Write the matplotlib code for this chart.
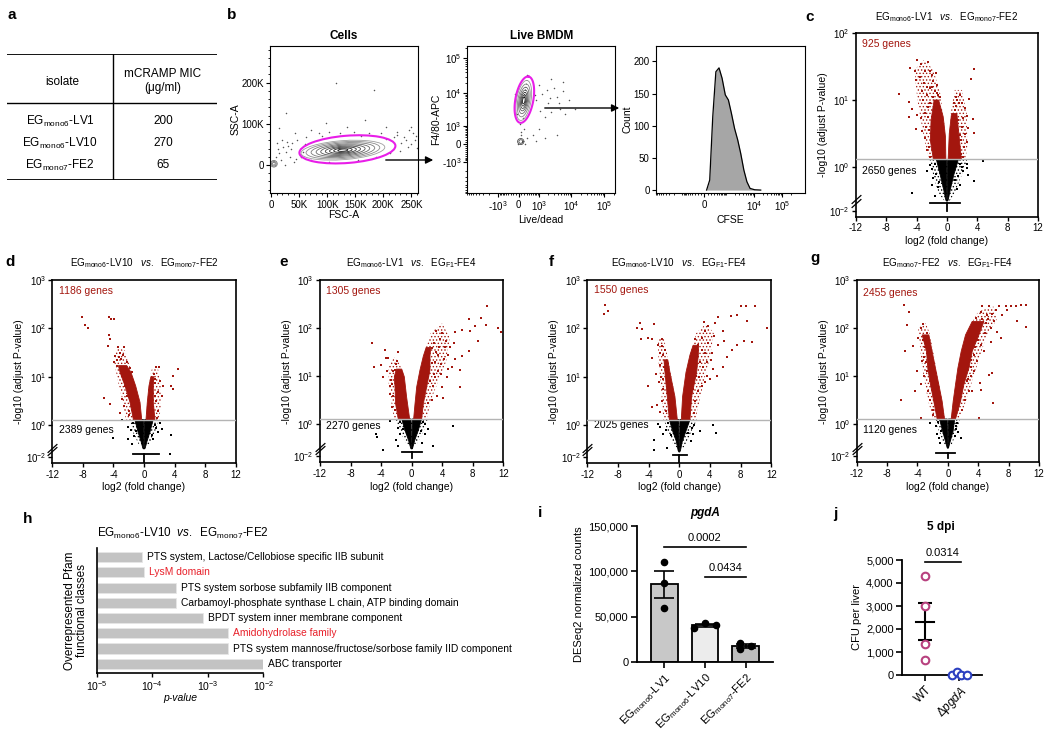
import numpy as np
import matplotlib
matplotlib.use("Agg")
import matplotlib.pyplot as plt
from matplotlib.patches import Ellipse, FancyArrowPatch
from matplotlib.transforms import blended_transform_factory

plt.rcParams['font.family'] = ['Liberation Sans', 'DejaVu Sans']
plt.rcParams['mathtext.fontset'] = 'custom'
plt.rcParams['mathtext.rm'] = 'Liberation Sans'
plt.rcParams['mathtext.it'] = 'Liberation Sans:italic'
plt.rcParams['mathtext.bf'] = 'Liberation Sans:bold'
plt.rcParams['mathtext.default'] = 'regular'
plt.rcParams['axes.unicode_minus'] = False
plt.rcParams['hatch.linewidth'] = 0.6

# ---------------- data ----------------
# a: MIC table
isolates = ["EG$_{mono6}$-LV1", "EG$_{mono6}$-LV10", "EG$_{mono7}$-FE2"]
mic_values = [200, 270, 65]

# b: flow gating (Cells: FSC-A / SSC-A in K units)
cells_dots = [(14.6, 89.1), (27.3, 125.4), (43.3, 76.9), (71.8, 84.9), (97.3, 101), (116.4, 198),
              (183.2, 182), (135.4, 93), (167.3, 109), (205.5, 93), (224.5, 81), (237.4, 68.7),
              (250, 93), (256.3, 60.7), (243.8, 44.4), (211.9, 28.3), (186.6, 20.2), (154.7, 12.1),
              (103.7, 8.1), (71.8, 12.1), (33.7, 20.2), (21, 44.4), (11.4, 52.6), (46.3, 60.7),
              (62.4, 68.7), (84.6, 76.9), (103.7, 81), (122.8, 76.9), (148.2, 81), (173.7, 76.9),
              (196, 76.9), (218.3, 68.7), (231, 52.6), (253.2, 76.9), (259.6, 40.5), (240.7, 60.7),
              (27.3, 32.3), (40.1, 8.1), (14.6, 28.3), (52.7, 20.2), (8.2, 20.2), (24.1, 0),
              (36.9, 52.6), (56, 32.3), (18, 12), (30, 45), (230, 35), (250, 50), (20, 60), (35, 38),
              (45, 15), (60, 50), (90, 70), (160, 70), (205, 62), (225, 72), (245, 85), (258, 70),
              (12, 40), (28, 55)]
cells_core = (128e3, 36e3)
cells_core_size = (150e3, 46e3)
cells_levels = [1.0, 0.88, 0.76, 0.64, 0.53, 0.42, 0.32, 0.22, 0.12]
cells_gate = (136e3, 38e3, 172e3, 66e3, 6.5)

# Live BMDM: Live/dead vs F4/80-APC
live_dots = [(785, 6385), (1264, 9440), (1976, 5226), (3052, 14070), (3775, 7800), (5770, 11520),
             (8790, 6385), (4665, 3520), (2465, 2870), (1596, 1910), (998, 774), (603, 419),
             (313, 272), (78, 586), (785, 135), (1596, 272), (3775, 419), (13470, 3520),
             (5770, 20840), (2465, 25460), (998, 17080), (313, 33970), (191, 774), (-34, 0),
             (131, 67), (247, 0), (-146, 9440), (-60, 2500), (60, 1200), (150, 1800), (90, 420),
             (1100, 3000), (1800, 12000), (2200, 7000), (700, 9000), (4200, 5200), (6500, 2500)]
live_core_u = (0.36, 2.9)
live_levels = [1.0, 0.82, 0.66, 0.52, 0.4, 0.28, 0.17]
live_gate_u = (0.40, 2.95, 1.57, 0.62, 79)

# CFSE histogram
cfse_values = [61, 152, 250, 367, 510, 680, 908, 1190, 1540, 1990, 2590, 3320, 4310, 5530, 7180, 10500, 17200]
cfse_counts = [0, 15.6, 114, 184, 190, 174, 148, 140, 119, 96, 78, 57, 31, 13, 2.6, 0.5, 0]

# c-g: volcano plots, vertices/points as (log2 FC, log10 of -log10 adj P)
c_halo_red = [[(-0.2, 0.114), (-0.3, 0.6), (-0.9, 1.1), (-1.8, 1.45), (-3.0, 1.6), (-4.3, 1.45), (-3.9, 1.0),
               (-3.3, 0.6), (-2.8, 0.3), (-2.3, 0.114)],
              [(0.2, 0.114), (0.5, 0.8), (1.0, 1.15), (2.0, 1.15), (2.6, 0.8), (2.7, 0.3), (2.4, 0.114)]]
c_halo_black = [[(-2.3, 0.114), (2.7, 0.114), (1.9, -0.4), (1.0, -1.2), (0.3, -1.55), (-0.3, -1.55), (-1.1, -1.2),
                 (-1.8, -0.4)]]
c_red_polys = [[(-0.15, 0.114), (-0.2, 0.45), (-0.5, 0.75), (-1.1, 1.0), (-1.7, 1.0), (-2.1, 0.7), (-2.2, 0.4), (-1.8, 0.114)],
               [(0.15, 0.114), (0.3, 0.5), (0.6, 0.8), (1.3, 0.8), (1.6, 0.45), (1.9, 0.114)]]
c_black_polys = [[(-0.08, 0.114), (-1.4, 0.114), (-0.9, -0.35), (-0.45, -1.0), (-0.15, -1.5), (-0.03, -1.55)],
                 [(0.08, 0.114), (1.5, 0.114), (0.9, -0.35), (0.45, -1.0), (0.15, -1.5), (0.03, -1.55)]]
c_red = [(-3.97, 1.59), (-4.93, 1.48), (-2.49, 1.56), (-3.45, 1.54), (-4.28, 1.43), (-2.88, 1.43), (-2.23, 1.44),
         (-3.62, 1.35), (-4.15, 1.30), (-6.33, 1.09), (-5.02, 0.97), (-4.59, 0.87), (-5.02, 0.74), (-3.36, 1.13),
         (-2.66, 1.08), (-3.97, 0.78), (-3.45, 0.73), (-2.23, 1.18), (-1.57, 1.13), (-1.79, 1.28), (-2.01, 1.38),
         (3.58, 1.47), (3.23, 1.31), (2.84, 1.02), (1.70, 1.08), (1.35, 1.00), (2.40, 0.88), (3.45, 0.71),
         (2.66, 0.76), (2.14, 0.73), (1.18, 0.91), (0.83, 0.63), (2.79, 0.58), (3.54, 0.51), (-4.06, 0.56),
         (-3.32, 0.53), (-2.88, 0.43), (2.58, 0.38), (1.70, 0.48), (-1.35, 1.23), (-1.14, 1.08),
         (-2.5, 0.9), (-2.9, 0.8), (-2.4, 0.3), (-2.7, 0.25), (-1.9, 1.05), (-3.1, 1.0), (-2.2, 0.95),
         (-2.6, 1.2), (-3.0, 1.25), (-1.5, 1.4), (-2.8, 0.6), (1.6, 0.95), (2.0, 0.6), (2.2, 0.3),
         (1.9, 0.2), (1.2, 1.05), (1.0, 0.85), (1.5, 0.7), (2.4, 0.5), (-2.35, 0.55), (-2.45, 0.75),
         (-2.3, 0.15), (-1.3, 1.1), (-0.9, 1.05), (-1.95, 1.2), (2.1, 0.15), (1.8, 0.4), (2.0, 0.95), (0.9, 0.95)]
c_black = [(4.76, 0.085), (3.54, -0.62), (-4.63, -1.18), (2.79, -0.35), (-2.66, -0.20), (-2.23, 0.035),
           (2.58, -0.045), (-2.01, -0.80), (1.70, -0.80), (-1.53, -1.33), (-2.0, -0.1), (-1.8, -0.5),
           (2.1, -0.2), (2.0, 0.0), (-1.2, -0.9), (1.3, -1.0), (2.7, 0.05), (-1.6, 0.05), (1.7, 0.05),
           (-1.4, -0.3), (1.4, -0.4), (-1.0, -0.7), (1.1, -0.6)]
c_band = (-2.2, 1.7, -1.63, -1.97)

d_halo_red = [[(-0.3, 0.114), (-0.8, 0.6), (-1.8, 1.2), (-2.5, 1.55), (-3.6, 1.6), (-3.9, 1.3), (-3.4, 0.9),
               (-2.8, 0.5), (-2.4, 0.114)],
              [(0.25, 0.114), (0.6, 0.8), (1.0, 1.15), (1.8, 1.2), (2.2, 0.8), (2.2, 0.4), (2.0, 0.114)]]
d_halo_black = [[(-2.0, 0.114), (2.0, 0.114), (1.4, -0.5), (0.6, -1.3), (-0.6, -1.3), (-1.4, -0.5)]]
d_red_polys = [[(-0.3, 0.114), (-0.52, 0.47), (-1.09, 0.81), (-1.7, 1.09), (-2.26, 1.23), (-3.35, 1.23), (-3.13, 1.09),
                (-2.48, 0.81), (-1.83, 0.47), (-1.39, 0.114)],
               [(0.26, 0.114), (0.43, 0.47), (0.65, 0.81), (0.9, 1.0), (1.3, 1.0), (1.22, 0.81), (1.22, 0.47), (1.43, 0.114)]]
d_black_polys = [[(-0.08, 0.114), (-1.2, 0.114), (-0.8, -0.4), (-0.4, -1.0), (-0.15, -1.45), (-0.03, -1.5)],
                 [(0.08, 0.114), (1.2, 0.114), (0.8, -0.4), (0.4, -1.0), (0.15, -1.45), (0.03, -1.5)]]
d_red = [(-8.13, 2.23), (-7.78, 2.06), (-7.35, 2.0), (-4.52, 2.23), (-4.35, 2.19), (-3.87, 2.19), (-4.52, 1.86),
         (-4.43, 1.78), (-4.65, 1.63), (-3.35, 1.61), (-2.57, 1.61), (-3.78, 1.43), (-3.13, 1.50), (-3.57, 1.23),
         (-3.0, 1.37), (-2.26, 1.30), (-1.83, 1.19), (-2.91, 1.02), (-2.04, 0.95), (-5.17, 0.55), (-4.43, 0.43),
         (-2.91, 0.54), (-3.13, 0.26), (1.57, 1.21), (1.96, 1.21), (4.48, 1.17), (3.74, 1.02), (3.52, 0.81),
         (1.30, 1.06), (2.09, 0.92), (2.52, 0.81), (1.43, 0.88), (3.83, 0.74), (1.87, 0.68), (0.91, 0.74),
         (-1.61, 1.09), (-2.48, 0.81), (-1.39, 0.68), (-2.2, 0.6), (-2.6, 0.4), (-2.0, 0.3), (-3.5, 1.35),
         (-3.9, 1.3), (-2.8, 1.2), (1.6, 0.5), (1.8, 0.3), (1.5, 0.95), (2.3, 0.6), (-3.3, 1.4), (-2.7, 1.45),
         (-2.3, 1.1), (-1.9, 0.2), (1.7, 0.15), (1.4, 0.6)]
d_black = [(-2.83, 0.10), (-2.13, -0.15), (2.09, 0.041), (2.39, -0.25), (3.52, -0.63), (-4.0, -0.84),
           (-2.04, -0.88), (-1.52, -1.19), (3.39, -1.78), (1.78, -0.46), (-1.7, -0.3), (1.6, -0.2),
           (-1.3, -0.7), (1.2, -0.9), (-1.5, 0.05), (1.5, 0.0), (-1.1, -0.4), (1.0, -0.6)]
d_band = (-1.5, 1.9, -1.82, -2.3)

e_halo_red = [[(-0.3, 0.114), (-0.8, 0.7), (-1.5, 1.25), (-2.3, 1.4), (-3.0, 1.2), (-3.0, 0.8), (-2.6, 0.4),
               (-2.3, 0.114)],
              [(0.25, 0.114), (0.8, 0.8), (1.5, 1.4), (2.5, 1.9), (4.0, 2.1), (5.0, 1.8), (4.5, 1.3), (3.5, 0.9),
               (2.5, 0.5), (2.0, 0.114)]]
e_halo_black = [[(-2.2, 0.114), (2.2, 0.114), (1.5, -0.5), (0.6, -1.3), (-0.6, -1.3), (-1.5, -0.5)]]
e_red_polys = [[(-0.26, 0.114), (-0.66, 0.57), (-0.96, 0.99), (-1.3, 1.15), (-2.0, 1.15), (-2.27, 0.99), (-2.18, 0.78),
                (-2.1, 0.43), (-1.75, 0.114)],
               [(0.26, 0.114), (0.44, 0.43), (0.66, 0.78), (1.09, 1.13), (1.53, 1.42), (1.9, 1.6), (2.5, 1.6),
                (2.4, 1.42), (2.4, 1.13), (1.97, 0.78), (1.53, 0.43), (1.31, 0.114)]]
e_black_polys = [[(-0.08, 0.114), (-1.3, 0.114), (-0.85, -0.4), (-0.4, -1.0), (-0.12, -1.5), (-0.03, -1.55)],
                 [(0.08, 0.114), (1.3, 0.114), (0.85, -0.4), (0.4, -1.0), (0.12, -1.5), (0.03, -1.55)]]
e_red = [(9.83, 2.47), (7.51, 2.19), (9.04, 2.21), (11.27, 2.01), (11.7, 1.91), (9.74, 2.07), (8.3, 2.05),
         (6.55, 1.96), (5.68, 1.91), (7.64, 1.94), (8.73, 1.73), (7.51, 1.52), (6.55, 1.42), (5.68, 1.35),
         (4.5, 1.73), (3.71, 1.77), (3.14, 1.94), (2.62, 1.59), (3.49, 1.45), (4.8, 1.45), (5.24, 1.20),
         (6.33, 1.13), (4.59, 0.99), (3.93, 0.78), (6.33, 0.78), (4.15, 0.54), (3.06, 0.99), (2.62, 1.27),
         (1.75, 1.31), (2.18, 1.06), (-5.15, 1.70), (-3.49, 1.54), (-3.14, 1.39), (-3.41, 1.38), (-4.89, 1.20),
         (-4.02, 1.24), (-1.97, 1.31), (-2.18, 1.13), (-3.71, 0.99), (-2.71, 0.92), (-2.84, 0.64), (-2.53, 0.36),
         (-1.31, 1.06), (-1.53, 0.85), (3.0, 1.3), (3.4, 1.1), (2.8, 0.8), (3.6, 1.6), (4.2, 1.35), (2.9, 1.7),
         (5.0, 1.6), (4.0, 1.9), (3.3, 0.6), (2.6, 0.5), (-2.5, 1.1), (-2.9, 0.8), (-2.4, 0.6), (-3.2, 1.1),
         (-1.8, 1.5), (3.8, 1.25), (4.4, 1.6), (3.2, 1.5), (2.4, 0.9), (2.1, 0.45), (5.5, 1.7), (4.7, 1.15),
         (3.9, 1.05), (2.9, 1.05), (-2.2, 0.3), (-2.0, 1.25), (-2.6, 0.85)]
e_black = [(-4.67, -0.62), (-4.5, -0.79), (5.37, -0.085), (-3.71, -1.58), (-2.1, -1.0), (-2.84, 0.077),
           (1.75, -0.62), (2.84, -1.37), (1.40, -1.15), (-1.75, -1.37), (-1.8, -0.2), (1.8, 0.0),
           (2.1, -0.3), (-1.5, -0.6), (-1.5, 0.05), (1.5, 0.05), (1.2, -0.4), (-1.1, -0.3)]
e_band = (-1.2, 1.3, -1.73, -2.1)

f_halo_red = [[(-0.3, 0.114), (-0.8, 0.8), (-1.5, 1.4), (-2.0, 1.8), (-2.8, 1.8), (-2.7, 1.3), (-2.4, 0.8),
               (-2.1, 0.114)],
              [(0.25, 0.114), (0.7, 0.8), (1.3, 1.4), (2.2, 1.9), (3.5, 2.1), (4.5, 1.9), (4.0, 1.4), (3.2, 0.9),
               (2.5, 0.4), (2.1, 0.114)]]
f_halo_black = [[(-2.0, 0.114), (2.3, 0.114), (1.5, -0.5), (0.6, -1.4), (-0.6, -1.4), (-1.5, -0.5)]]
f_red_polys = [[(-0.26, 0.114), (-0.57, 0.59), (-1.22, 1.09), (-1.5, 1.35), (-2.0, 1.35), (-1.87, 1.09),
                (-1.57, 0.59), (-1.3, 0.114)],
               [(0.26, 0.114), (0.43, 0.59), (0.87, 1.09), (1.39, 1.45), (1.8, 1.65), (2.5, 1.65), (2.48, 1.45),
                (2.26, 1.09), (1.61, 0.59), (1.39, 0.114)]]
f_black_polys = [[(-0.08, 0.114), (-1.3, 0.114), (-0.85, -0.4), (-0.4, -1.0), (-0.15, -1.6), (-0.03, -1.7)],
                 [(0.08, 0.114), (1.4, 0.114), (0.85, -0.4), (0.4, -1.0), (0.15, -1.6), (0.03, -1.7)]]
f_red = [(-9.7, 2.49), (-9.26, 2.36), (-9.78, 2.29), (-5.13, 2.12), (-5.57, 2.01), (-4.91, 1.99), (-3.3, 2.09),
         (-4.13, 1.81), (-3.61, 1.79), (-5.0, 1.79), (-2.3, 1.79), (-2.3, 1.63), (-2.17, 1.45), (-3.61, 1.38),
         (-2.52, 1.24), (-3.04, 1.06), (-4.04, 0.81), (-3.61, 0.38), (-2.96, 0.41), (-2.52, 0.27), (-2.09, 0.74),
         (8.09, 2.46), (8.65, 2.47), (9.83, 2.47), (7.48, 2.27), (6.74, 2.26), (5.09, 2.24), (3.22, 2.14),
         (3.78, 2.04), (4.65, 2.11), (11.39, 2.01), (8.78, 2.16), (8.48, 1.74), (9.52, 1.71), (7.48, 1.66),
         (6.83, 1.56), (5.74, 1.95), (5.83, 1.74), (5.09, 1.66), (6.17, 1.41), (5.74, 1.2), (4.87, 1.02),
         (4.43, 1.16), (3.35, 1.49), (2.48, 1.66), (2.04, 1.77), (2.7, 1.31), (3.57, 1.02), (2.91, 0.81),
         (1.83, 0.74), (4.0, 0.95), (2.17, 1.02), (3.0, 1.8), (3.8, 1.7), (4.3, 1.5), (3.1, 1.2), (2.6, 1.0),
         (4.5, 1.85), (3.4, 1.95), (2.9, 1.55), (-2.0, 1.2), (-2.4, 1.0), (-1.9, 1.55), (-2.7, 0.9), (-2.2, 0.5),
         (2.3, 1.4), (2.0, 0.5), (1.9, 0.25), (3.6, 1.3), (4.1, 1.35), (3.3, 0.9), (2.5, 0.7), (-2.1, 0.95),
         (-1.8, 0.3), (-2.5, 1.5), (-2.8, 1.65)]
f_black = [(4.43, 0.007), (4.74, -0.48), (2.7, -0.37), (1.83, -0.58), (-3.26, -0.91), (-3.26, -1.56),
           (-2.52, -0.15), (-2.09, -0.58), (-2.74, 0.02), (-1.57, -1.45), (1.9, 0.0), (-1.8, -0.3), (1.5, -1.0),
           (-1.5, 0.05), (1.6, -0.2), (-1.1, -0.6), (1.1, -0.5)]
f_band = (-0.8, 1.0, -1.88, -2.35)

g_halo_red = [[(-0.4, 0.114), (-1.0, 0.7), (-1.8, 1.4), (-2.4, 1.9), (-2.9, 2.1), (-3.9, 2.0), (-3.6, 1.5),
               (-3.2, 1.0), (-2.6, 0.5), (-2.0, 0.114)],
              [(0.4, 0.114), (1.0, 0.8), (1.8, 1.5), (2.8, 2.0), (4.0, 2.35), (6.0, 2.45), (6.5, 2.2), (5.0, 1.8),
               (4.0, 1.3), (3.0, 0.8), (2.0, 0.3), (1.4, 0.114)]]
g_halo_black = [[(-1.8, 0.114), (1.6, 0.114), (1.1, -0.5), (0.5, -1.3), (-0.5, -1.3), (-1.1, -0.5)]]
g_red_polys = [[(-0.44, 0.114), (-0.75, 0.48), (-1.19, 0.83), (-1.63, 1.17), (-2.07, 1.52), (-2.5, 1.86),
                (-3.38, 1.86), (-2.81, 1.52), (-2.64, 1.17), (-2.29, 0.83), (-1.85, 0.48), (-1.41, 0.114)],
               [(0.44, 0.114), (0.70, 0.48), (1.01, 0.83), (1.32, 1.17), (1.76, 1.52), (2.33, 1.86), (3.21, 2.14),
                (4.75, 2.14), (4.09, 1.86), (3.21, 1.52), (2.77, 1.17), (2.11, 0.83), (1.67, 0.48), (1.01, 0.114)]]
g_black_polys = [[(-0.08, 0.114), (-1.1, 0.114), (-0.7, -0.4), (-0.35, -1.0), (-0.1, -1.45), (-0.03, -1.5)],
                 [(0.08, 0.114), (0.9, 0.114), (0.7, -0.4), (0.35, -1.0), (0.1, -1.45), (0.03, -1.5)]]
g_red = [(-5.8, 2.48), (-5.14, 2.34), (-5.36, 2.07), (-3.25, 2.08), (-3.6, 2.0), (-3.96, 1.79), (-4.57, 1.62),
         (-5.58, 1.53), (-6.15, 0.50), (-3.6, 0.14), (-4.04, 1.10), (-3.38, 1.31), (-3.6, 0.83), (-4.26, 0.69),
         (4.53, 2.45), (5.41, 2.45), (6.73, 2.46), (7.6, 2.47), (8.26, 2.45), (8.92, 2.46), (9.58, 2.48),
         (10.24, 2.48), (6.29, 2.38), (7.82, 2.38), (9.14, 2.14), (10.24, 2.03), (5.19, 2.28), (4.31, 2.33),
         (6.07, 2.14), (6.51, 1.93), (6.95, 1.79), (5.63, 1.72), (4.75, 1.52), (5.41, 1.03), (5.85, 1.07),
         (4.22, 0.86), (4.31, 0.72), (5.98, 0.45), (4.09, 0.14), (2.77, 0.69), (3.43, 1.10), (3.87, 1.31),
         (2.99, 1.34), (2.11, 1.31), (2.55, 1.59), (3.43, 1.86), (5.63, 2.0), (4.31, 2.07), (3.65, 2.21),
         (7.16, 2.28), (-2.9, 1.3), (-3.1, 1.0), (-2.6, 0.7), (-2.3, 0.5), (-3.0, 1.6), (-2.8, 1.9),
         (-3.3, 1.75), (-2.0, 0.3), (3.0, 1.0), (2.5, 0.9), (2.2, 0.5), (3.6, 1.6), (4.0, 1.75), (4.9, 1.9),
         (3.2, 0.7), (4.5, 2.2), (5.0, 2.1), (5.8, 2.3), (2.4, 1.2), (3.5, 1.45), (3.0, 1.2), (4.4, 1.65),
         (2.7, 0.95), (1.9, 0.3), (5.3, 2.2), (3.9, 2.0), (-2.7, 1.1), (-3.2, 1.4), (-2.4, 0.9), (-1.9, 0.2)]
g_black = [(-2.29, 0.034), (-1.41, -0.58), (-1.19, -0.88), (1.01, -0.31), (1.67, -0.84), (1.23, 0.034),
           (-0.97, -1.15), (-1.6, -0.1), (1.4, -0.5), (-1.3, 0.05), (1.1, -0.1), (-0.9, -0.4), (0.9, -0.7)]
g_band = (-1.6, 1.0, -1.78, -2.1)

# h: enrichment
h_terms = ["PTS system, Lactose/Cellobiose specific IIB subunit", "LysM domain",
           "PTS system sorbose subfamily IIB component",
           "Carbamoyl-phosphate synthase L chain, ATP binding domain",
           "BPDT system inner membrane component", "Amidohydrolase family",
           "PTS system mannose/fructose/sorbose family IID component", "ABC transporter"]
h_pvals = [6.5e-5, 7.2e-5, 2.7e-4, 2.7e-4, 8.1e-4, 2.3e-3, 2.3e-3, 1.0e-2]
h_highlight = [False, True, False, False, False, True, False, False]

# i: pgdA counts
i_groups = ["EG$_{mono6}$-LV1", "EG$_{mono6}$-LV10", "EG$_{mono7}$-FE2"]
i_points = [[110000, 86900, 60100], [38100, 43300, 40700], [21500, 14500, 17500]]
i_jitter = [[0, 0, 0], [-0.26, 0, 0.28], [-0.13, -0.13, 0.13]]
i_colors = ['#c8c8c8', '#ececec', '#bdbdbd']

# j: CFU per liver
j_wt = [4300, 2990, 1350, 650]
j_mut = [20, 120, 20, 20]
j_mut_jitter = [-0.23, -0.07, 0.05, 0.23]

RED = '#a3160e'
MAGENTA = '#e81ee8'

# ---------------- figure ----------------
W, H = 1050, 732
fig = plt.figure(figsize=(W / 100, H / 100), dpi=100)


def box(l, t, r, b):
    return fig.add_axes([l / W, 1 - b / H, (r - l) / W, (b - t) / H])


def label(x, y, s, **kw):
    fig.text(x / W, 1 - y / H, s, **kw)


for letter, (lx, ly) in zip("abcdefghij", [(12, 15), (232, 15), (810, 17), (10, 262), (284, 262),
                                           (551, 262), (815, 258), (28, 519), (540, 513), (835, 514)]):
    label(lx, ly, letter, fontsize=11, fontweight='bold', ha='center', va='center')

# ---- a: table
ax = box(7, 54, 217, 180)
ax.set_xlim(0, 210)
ax.set_ylim(126, 0)
ax.axis('off')
ax.plot([0, 210], [0, 0], color='k', lw=1.3)
ax.plot([0, 210], [49, 49], color='k', lw=1.0)
ax.plot([0, 210], [126, 126], color='k', lw=1.3)
ax.plot([106.3, 106.3], [0, 126], color='k', lw=1.0)
ax.text(55, 27.5, "isolate", ha='center', va='center', fontsize=8.5)
ax.text(156, 27, "mCRAMP MIC\n(μg/ml)", ha='center', va='center', fontsize=8.5, linespacing=1.3)
for row, (iso, mic) in enumerate(zip(isolates, mic_values)):
    ax.text(53, 67.5 + 22 * row, iso, ha='center', va='center', fontsize=8.5)
    ax.text(156, 67.5 + 22 * row, str(mic), ha='center', va='center', fontsize=8.5)

# ---- b: flow
FLOW_FS = 7
ax = box(270.4, 46, 417.9, 193.3)
ax.set_xlim(-1.2e3, 261.6e3)
ax.set_ylim(-68.7e3, 288.8e3)
dx, dy = zip(*cells_dots)
ax.scatter(np.array(dx) * 1e3, np.array(dy) * 1e3, s=1.2, color='#555555', lw=0)
for i, lev in enumerate(cells_levels):
    shade = 0.62 - 0.55 * i / (len(cells_levels) - 1)
    ax.add_patch(Ellipse(cells_core, cells_core_size[0] * lev, cells_core_size[1] * lev, angle=6,
                         fill=False, ec=str(shade), lw=0.6))
for lev in [1.0, 0.7, 0.4]:
    ax.add_patch(Ellipse((5e3, 3e3), 12e3 * lev, 16e3 * lev, fill=False, ec='0.45', lw=0.6))
gx, gy, gw, gh, ga = cells_gate
ax.add_patch(Ellipse((gx, gy), gw, gh, angle=ga, fill=False, ec=MAGENTA, lw=1.5))
ax.set_xticks([0, 50e3, 100e3, 150e3, 200e3, 250e3])
ax.set_xticklabels(['0', '50K', '100K', '150K', '200K', '250K'])
ax.set_xticks(np.arange(0, 261e3, 10e3), minor=True)
ax.set_yticks([0, 100e3, 200e3])
ax.set_yticklabels(['0', '100K', '200K'])
ax.set_yticks(np.arange(-60e3, 281e3, 20e3), minor=True)
ax.tick_params(labelsize=FLOW_FS, length=3, pad=1.5)
ax.tick_params(which='minor', length=1.5)
ax.set_xlabel('FSC-A', fontsize=FLOW_FS + 0.5, labelpad=0)
ax.set_ylabel('SSC-A', fontsize=FLOW_FS + 0.5, labelpad=1)
ax.set_title('Cells', fontsize=8.5, fontweight='bold', pad=5)

LIVE_CX, LIVE_CY = 520.0, 670.0


def ell_u(cx, cy, a, b, ang, n=120):
    t = np.linspace(0, 2 * np.pi, n)
    th = np.radians(ang)
    x = cx + a * np.cos(t) * np.cos(th) - b * np.sin(t) * np.sin(th)
    y = cy + a * np.cos(t) * np.sin(th) + b * np.sin(t) * np.cos(th)
    return x, y


biex_ticks = [-1e3, 0, 1e3, 1e4, 1e5]
biex_labels = ['-10$^{3}$', '0', '10$^{3}$', '10$^{4}$', '10$^{5}$']
biex_minor = ([-s * m for s in [100, 1000] for m in range(1, 10)] + [s * m for s in [100, 1000, 10000] for m in range(1, 10)]
              + [2e5])

ax = box(467.5, 46, 615, 193.3)
ax.set_xscale('function', functions=(lambda v: np.arcsinh(np.asarray(v, float) / LIVE_CX),
                                      lambda u: LIVE_CX * np.sinh(np.asarray(u, float))))
ax.set_yscale('function', functions=(lambda v: np.arcsinh(np.asarray(v, float) / LIVE_CY),
                                      lambda u: LIVE_CY * np.sinh(np.asarray(u, float))))
ax.set_xlim(LIVE_CX * np.sinh(-2.03), LIVE_CX * np.sinh(6.69))
ax.set_ylim(LIVE_CY * np.sinh(-2.16), LIVE_CY * np.sinh(6.53))
lx, ly = zip(*live_dots)
ax.scatter(lx, ly, s=1.2, color='#555555', lw=0)
for i, lev in enumerate(live_levels):
    shade = 0.6 - 0.5 * i / (len(live_levels) - 1)
    ux, uy = ell_u(live_core_u[0], live_core_u[1], 1.35 * lev, 0.5 * lev, 80)
    ax.plot(LIVE_CX * np.sinh(ux), LIVE_CY * np.sinh(uy), color=str(shade), lw=0.6)
for lev in [1.0, 0.6]:
    ux, uy = ell_u(0.15, 0.16, 0.22 * lev, 0.2 * lev, 0)
    ax.plot(LIVE_CX * np.sinh(ux), LIVE_CY * np.sinh(uy), color='0.3', lw=0.6)
gcx, gcy, ga_, gb_, gang = live_gate_u
ux, uy = ell_u(gcx, gcy, ga_, gb_, gang)
ax.plot(LIVE_CX * np.sinh(ux), LIVE_CY * np.sinh(uy), color=MAGENTA, lw=1.5)
for axis in (ax.xaxis, ax.yaxis):
    axis.set_ticks(biex_ticks)
    axis.set_ticklabels(biex_labels)
    axis.set_ticks(biex_minor, minor=True)
ax.tick_params(labelsize=FLOW_FS, length=3, pad=1.5)
ax.tick_params(which='minor', length=1.5)
ax.set_xlabel('Live/dead', fontsize=FLOW_FS + 0.5, labelpad=1)
ax.set_ylabel('F4/80-APC', fontsize=FLOW_FS + 0.5, labelpad=0)
ax.set_title('Live BMDM', fontsize=8.5, fontweight='bold', pad=5)

CFSE_C = 338.0
ax = box(656, 46, 805, 193.3)
ax.set_xscale('function', functions=(lambda v: np.arcsinh(np.asarray(v, float) / CFSE_C),
                                      lambda u: CFSE_C * np.sinh(np.asarray(u, float))))
ax.set_xlim(CFSE_C * np.sinh(-2.38), CFSE_C * np.sinh(8.26))
ax.set_ylim(-5, 224)
ax.fill_between(cfse_values, cfse_counts, 0, color='#a6a6a6', lw=0)
ax.plot(cfse_values, cfse_counts, color='black', lw=0.9)
ax.set_xticks([0, 1e4, 1e5])
ax.set_xticklabels(['0', '10$^{4}$', '10$^{5}$'])
ax.set_xticks(biex_minor, minor=True)
ax.set_yticks([0, 50, 100, 150, 200])
ax.tick_params(labelsize=FLOW_FS, length=3, pad=1.5)
ax.tick_params(which='minor', length=1.5)
ax.set_xlabel('CFSE', fontsize=FLOW_FS + 0.5, labelpad=1)
ax.set_ylabel('Count', fontsize=FLOW_FS + 0.5, labelpad=1)

for (x1, y1), (x2, y2) in [((383, 160), (436, 160)), ((542, 108), (622, 108))]:
    fig.add_artist(FancyArrowPatch((x1 / W, 1 - y1 / H), (x2 / W, 1 - y2 / H), transform=fig.transFigure,
                                   arrowstyle='-|>', mutation_scale=11, color='black', lw=1.0, zorder=10))

# ---- c-g: volcano plots
K_BREAK = 0.33


def vfwd(v):
    v = np.maximum(np.asarray(v, float), 1e-12)
    lg = np.log10(v)
    return np.where(lg >= 0, lg, K_BREAK * lg)


def vinv(u):
    u = np.asarray(u, float)
    return np.where(u >= 0, 10.0 ** u, 10.0 ** (u / K_BREAK))


def fill_polys(ax, polys, color, hatch=None):
    for poly in polys:
        px, pl = zip(*poly)
        if hatch:
            ax.fill(px, 10.0 ** np.array(pl), facecolor='none', edgecolor=color, hatch=hatch, lw=0, zorder=1.5)
        else:
            ax.fill(px, 10.0 ** np.array(pl), color=color, lw=0.6, zorder=2)


def volcano(ax, halo_red, halo_black, red_polys, black_polys, red_pts, black_pts, band, top_exp, bottom_u,
            n_up, n_down, y_up, y_down):
    ax.set_yscale('function', functions=(vfwd, vinv))
    ax.set_xlim(-12, 12)
    ax.set_ylim(float(vinv(bottom_u)), 10.0 ** top_exp)
    fill_polys(ax, halo_black, 'black', hatch='.....')
    fill_polys(ax, halo_red, RED, hatch='.....')
    fill_polys(ax, black_polys, 'black')
    fill_polys(ax, red_polys, RED)
    rx, rl = zip(*red_pts)
    ax.scatter(rx, 10.0 ** np.array(rl), s=2.2, marker='s', color=RED, lw=0, zorder=3)
    bx, bl = zip(*black_pts)
    ax.scatter(bx, 10.0 ** np.array(bl), s=2.2, marker='s', color='black', lw=0, zorder=3)
    xl, xr, lb, lt = band
    ax.plot([xl, xr], [10.0 ** lb] * 2, color='black', lw=1.3, zorder=3)
    ax.plot([0, 0], [10.0 ** lb, 10.0 ** lt], color='black', lw=1.3, zorder=3)
    ax.axhline(1.3, color='#b4b4b4', lw=1.0, zorder=4)
    ticks = [1e-2, 1, 10, 100, 1000][:top_exp + 2]
    ax.set_yticks(ticks)
    ax.set_yticklabels(['10$^{-2}$', '10$^{0}$', '10$^{1}$', '10$^{2}$', '10$^{3}$'][:len(ticks)])
    ax.yaxis.set_minor_locator(matplotlib.ticker.NullLocator())
    ax.set_xticks(range(-12, 13, 4))
    ax.tick_params(labelsize=7, length=3, width=1, pad=1.5)
    for s in ax.spines.values():
        s.set_linewidth(1.2)
    ax.set_xlabel('log2 (fold change)', fontsize=7.5, labelpad=2)
    ax.set_ylabel('-log10 (adjust P-value)', fontsize=7.5, labelpad=1)
    ax.text(0.035, y_up, n_up, color=RED, transform=ax.transAxes, fontsize=7.5, va='center')
    ax.text(0.035, y_down, n_down, color='black', transform=ax.transAxes, fontsize=7.5, va='center')
    tr = blended_transform_factory(ax.transAxes, ax.transData)
    for du in (0.03, -0.03):
        ax.plot([0], [float(vinv(-0.5 + du))], marker=[(-1, -0.9), (1, 0.9)], ms=7, mec='black',
                mew=0.9, transform=tr, clip_on=False, zorder=6)


panels = [
    ((856, 33, 1038, 217), c_halo_red, c_halo_black, c_red_polys, c_black_polys, c_red, c_black, c_band, 2, -0.746,
     "925 genes", "2650 genes", 0.94, 0.252,
     "EG$_{mono6}$-LV1   $\\mathit{vs.}$  EG$_{mono7}$-FE2", 17),
    ((52.3, 280, 235.7, 463.3), d_halo_red, d_halo_black, d_red_polys, d_black_polys, d_red, d_black, d_band, 3, -0.79,
     "1186 genes", "2389 genes", 0.94, 0.18,
     "EG$_{mono6}$-LV10   $\\mathit{vs.}$  EG$_{mono7}$-FE2", 263),
    ((320, 280, 503.3, 462.5), e_halo_red, e_halo_black, e_red_polys, e_black_polys, e_red, e_black, e_band, 3, -0.79,
     "1305 genes", "2270 genes", 0.94, 0.20,
     "EG$_{mono6}$-LV1   $\\mathit{vs.}$  EG$_{F1}$-FE4", 263),
    ((587.3, 280, 771.3, 463.3), f_halo_red, f_halo_black, f_red_polys, f_black_polys, f_red, f_black, f_band, 3, -0.79,
     "1550 genes", "2025 genes", 0.945, 0.21,
     "EG$_{mono6}$-LV10   $\\mathit{vs.}$  EG$_{F1}$-FE4", 263),
    ((856.7, 280, 1039, 462.5), g_halo_red, g_halo_black, g_red_polys, g_black_polys, g_red, g_black, g_band, 3, -0.79,
     "2455 genes", "1120 genes", 0.93, 0.18,
     "EG$_{mono7}$-FE2   $\\mathit{vs.}$  EG$_{F1}$-FE4", 263),
]
for (bb, hr, hb, rp, bp, rpts, bpts, band, top, bot, nu, nd, yu, yd, title, ty) in panels:
    ax = box(*bb)
    volcano(ax, hr, hb, rp, bp, rpts, bpts, band, top, bot, nu, nd, yu, yd)
    label((bb[0] + bb[2]) / 2, ty, title, ha='center', va='center', fontsize=7.1)

# ---- h: Pfam enrichment
ax = box(96.7, 548.3, 263.3, 673.3)
ax.set_xscale('log')
ypos = np.arange(len(h_terms))
ax.barh(ypos, [p - 1e-5 for p in h_pvals], left=1e-5, height=0.66, color='#c3c3c3', ec='#e6e6e6', lw=0.6)
ax.set_xlim(1e-5, 1e-2)
ax.set_ylim(len(h_terms) - 0.37, -0.59)
for yi, (term, p, hl) in enumerate(zip(h_terms, h_pvals, h_highlight)):
    ax.annotate(term, (p, yi), xytext=(3.5, 0), textcoords='offset points', va='center', ha='left',
                fontsize=7.4, color='#e8202a' if hl else 'black', annotation_clip=False)
ax.set_xticks([1e-5, 1e-4, 1e-3, 1e-2])
ax.set_xticklabels(['10$^{-5}$', '10$^{-4}$', '10$^{-3}$', '10$^{-2}$'])
ax.xaxis.set_minor_locator(matplotlib.ticker.NullLocator())
ax.set_yticks([])
for s in ['top', 'right']:
    ax.spines[s].set_visible(False)
for s in ['left', 'bottom']:
    ax.spines[s].set_linewidth(1.2)
ax.tick_params(labelsize=7.5, length=3, width=1, pad=1.5)
ax.set_xlabel('p-value', fontsize=7.5, fontstyle='italic', labelpad=0)
ax.set_ylabel('Overrepresented Pfam\nfunctional classes', fontsize=8.5, labelpad=6, linespacing=1.0)
label(96.7, 533, "EG$_{mono6}$-LV10  $\\mathit{vs.}$  EG$_{mono7}$-FE2", ha='left', va='center', fontsize=8.4)

# ---- i: pgdA
ax = box(636.6, 526, 772.9, 662.3)
xg = np.arange(len(i_groups))
i_means = [np.mean(p) for p in i_points]
i_sems = [np.std(p, ddof=1) / np.sqrt(len(p)) for p in i_points]
ax.bar(xg, i_means, width=0.66, color=i_colors, edgecolor='black', lw=1.3, zorder=1)
ax.errorbar(xg, i_means, yerr=i_sems, fmt='none', ecolor='black', elinewidth=1.2, capsize=7, capthick=1.2, zorder=2)
for gi, (pts, jit) in enumerate(zip(i_points, i_jitter)):
    ax.scatter(gi + np.array(jit), pts, s=20, color='black', zorder=3, clip_on=False)
ax.set_xlim(-0.68, 2.67)
ax.set_ylim(0, 150000)
ax.set_yticks([0, 50000, 100000, 150000])
ax.set_yticklabels(['0', '50,000', '100,000', '150,000'])
ax.set_xticks(xg)
ax.set_xticklabels(i_groups, rotation=45, ha='right', rotation_mode='anchor', fontsize=8.2)
for s in ['top', 'right']:
    ax.spines[s].set_visible(False)
for s in ['left', 'bottom']:
    ax.spines[s].set_linewidth(1.3)
ax.tick_params(axis='y', labelsize=8)
ax.tick_params(length=4, width=1.2, pad=2)
ax.set_ylabel('DESeq2 normalized counts', fontsize=8, labelpad=3)
for (a0, a1, yy, txt) in [(0, 2, 126500, "0.0002"), (1, 2, 94200, "0.0434")]:
    ax.plot([a0, a1], [yy, yy], color='black', lw=1.2, clip_on=False)
    ax.text((a0 + a1) / 2, yy + 4500, txt, ha='center', va='bottom', fontsize=8)
ax.set_title('pgdA', fontsize=8.5, fontweight='bold', fontstyle='italic', pad=7)

# ---- j: CFU
ax = box(902, 560, 981.5, 675)
wt_mean = np.mean(j_wt)
wt_sem = np.std(j_wt, ddof=1) / np.sqrt(len(j_wt))
mut_mean = np.mean(j_mut)
ax.plot([-0.27, 0.27], [wt_mean, wt_mean], color='black', lw=1.5, zorder=2)
ax.errorbar([0], [wt_mean], yerr=[wt_sem], fmt='none', ecolor='black', elinewidth=1.5, capsize=5,
            capthick=1.5, zorder=2)
ax.plot([0.73, 1.27], [mut_mean, mut_mean], color='black', lw=1.5, zorder=2, clip_on=False)
ax.scatter(np.zeros(len(j_wt)), j_wt, s=30, facecolors='white', edgecolors='#b8417f', lw=1.5, zorder=3)
ax.scatter(1 + np.array(j_mut_jitter), j_mut, s=30, facecolors='white', edgecolors='#2b3fc0', lw=1.5,
           zorder=3, clip_on=False)
ax.set_xlim(-0.67, 1.64)
ax.set_ylim(0, 5000)
ax.set_yticks([0, 1000, 2000, 3000, 4000, 5000])
ax.set_yticklabels(['0', '1,000', '2,000', '3,000', '4,000', '5,000'])
ax.set_xticks([0, 1])
ax.set_xticklabels(['WT', 'Δ$\\mathit{pgdA}$'], rotation=45, ha='right', rotation_mode='anchor', fontsize=8.5)
for s in ['top', 'right']:
    ax.spines[s].set_visible(False)
for s in ['left', 'bottom']:
    ax.spines[s].set_linewidth(1.3)
ax.tick_params(axis='y', labelsize=8)
ax.tick_params(length=4, width=1.2, pad=2)
ax.set_ylabel('CFU per liver', fontsize=8, labelpad=3)
ax.plot([0, 1.03], [4900, 4900], color='black', lw=1.2, clip_on=False)
ax.text(0.52, 5100, "0.0314", ha='center', va='bottom', fontsize=8)
label(941, 527, "5 dpi", ha='center', va='center', fontsize=8.5, fontweight='bold')

fig.savefig("out.png", dpi=100)
